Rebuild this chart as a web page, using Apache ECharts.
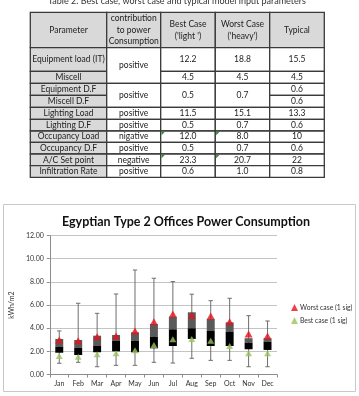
<!DOCTYPE html>
<html><head><meta charset="utf-8">
<script src="https://cdn.jsdelivr.net/npm/echarts@6/dist/echarts.min.js"></script>
<style>html,body{margin:0;padding:0;background:#fff;}#c{width:359px;height:396px;}</style>
</head><body><div id="c"></div>
<script>
// ---- Table data ----
const tableCaption = 'Table 2. Best case, worst case and typical model input parameters';
const tableHeaders = ['Parameter', 'contribution\nto power\nConsumption', "Best Case\n('light ')", "Worst Case\n('heavy')", 'Typical'];
const paramNames = ['Equipment load (IT)','Miscell','Equipment D.F','Miscell D.F','Lighting Load','Lighting D.F','Occupancy Load','Occupancy D.F','A/C Set point','Infiltration Rate'];
// null = merged with the cell above
const contribution = ['positive', null, 'positive', null, 'positive', 'positive', 'nigative', 'positive', 'negative', 'positive'];
const bestCase   = ['12.2', '4.5', '0.5', null, '11.5', '0.5', '12.0', '0.5', '23.3', '0.6'];
const worstCase  = ['18.8', '4.5', '0.7', null, '15.1', '0.7', '8.0', '0.7', '20.7', '1.0'];
const typical    = ['15.5', '4.5', '0.6', '0.6', '13.3', '0.6', '10', '0.6', '22', '0.8'];
const textFlagRows = ['Occupancy Load', 'A/C Set point'];

// ---- Chart data ----
const months = ['Jan','Feb','Mar','Apr','May','Jun','Jul','Aug','Sep','Oct','Nov','Dec'];
const whiskerMin = [0.97, 1.05, 0.67, 0.79, 0.79, 1.05, 0.99, 1.40, 1.22, 1.22, 0.67, 0.67];
const boxLow     = [1.88, 1.68, 1.92, 2.00, 1.92, 2.26, 2.46, 3.07, 2.46, 2.46, 2.18, 2.12];
const boxMid     = [2.40, 2.31, 2.46, 2.89, 2.92, 3.27, 3.90, 3.99, 3.76, 3.70, 2.75, 2.83];
const boxHigh    = [3.07, 2.98, 3.35, 3.41, 3.64, 4.36, 4.99, 5.37, 4.79, 4.50, 3.13, 3.13];
const whiskerMax = [3.76, 6.15, 5.28, 6.95, 9.02, 8.31, 8.02, 6.93, 6.37, 6.58, 5.08, 4.62];
const worstCase1sig = [2.98, 2.92, 3.26, 3.32, 3.75, 4.56, 5.22, 5.11, 5.05, 4.56, 3.50, 3.32];
const bestCase1sig  = [1.60, 1.54, 1.74, 1.83, 2.10, 2.55, 3.04, 3.07, 2.92, 2.46, 1.83, 1.83];
const yTicks = [0, 2, 4, 6, 8, 10, 12];

const FONT = 'Lato, "Liberation Sans", sans-serif';

// ---- Table layout ----
const colX = [30.3, 106.7, 160.7, 215.3, 269.7, 324.3];
const headerTop = 12.3, headerBottom = 47.7;
const rowY = [47.7, 71.3, 83.3, 95.3, 107.3, 119.3, 131, 142.3, 154, 165.7, 177.3];
const graphics = [];
graphics.push({type:'text', x:177, y:1.5, style:{text: tableCaption, font: '9px ' + FONT, fill:'#333', align:'center', verticalAlign:'middle'}});
const border = '#3a3a3a';
function cell(x0, x1, y0, y1, txt, bg) {
  graphics.push({type:'rect', shape:{x:x0, y:y0, width:x1-x0, height:y1-y0}, style:{fill:bg, stroke:border, lineWidth:1.3}, z:1});
  if (txt !== null && txt !== undefined) {
    graphics.push({type:'text', x:(x0+x1)/2, y:(y0+y1)/2, style:{text:txt, font:'8.5px ' + FONT, fill:'#222', align:'center', verticalAlign:'middle', lineHeight:11.6}, z:2});
  }
}
tableHeaders.forEach((h, i) => cell(colX[i], colX[i+1], headerTop, headerBottom, h, '#d9d9d9'));
const cols = [paramNames, contribution, bestCase, worstCase, typical];
cols.forEach((col, ci) => {
  for (let r = 0; r < col.length; r++) {
    if (col[r] === null) continue;
    let end = r + 1;
    while (end < col.length && col[end] === null) end++;
    cell(colX[ci], colX[ci+1], rowY[r], rowY[end], col[r], ci === 0 ? '#d9d9d9' : '#ffffff');
  }
});
paramNames.forEach((p, r) => {
  if (textFlagRows.indexOf(p) >= 0) {
    [2, 3].forEach(ci => {
      const x = colX[ci] + 0.8, y = rowY[r] + 0.8;
      graphics.push({type:'polygon', shape:{points:[[x,y],[x+3.5,y],[x,y+3.5]]}, style:{fill:'#2e8b2e'}, z:3});
    });
  }
});
// chart frame
graphics.push({type:'rect', shape:{x:3.5, y:204.5, width:352, height:187}, style:{fill:'none', stroke:'#c8c8c8', lineWidth:1}, z:0});

const boxData = months.map((m, i) => [i, whiskerMin[i], boxLow[i], boxMid[i], boxHigh[i], whiskerMax[i]]);

function renderBox(params, api) {
  const i = api.value(0);
  const pMin = api.coord([i, api.value(1)]);
  const pLow = api.coord([i, api.value(2)]);
  const pMid = api.coord([i, api.value(3)]);
  const pHigh = api.coord([i, api.value(4)]);
  const pMax = api.coord([i, api.value(5)]);
  const bw = api.size([1, 0])[0] * 0.42;
  const cx = pMin[0];
  const cap = 2.2;
  const ls = {stroke:'#6e6e6e', lineWidth:1};
  return {type:'group', children:[
    {type:'line', shape:{x1:cx, y1:pMin[1], x2:cx, y2:pMax[1]}, style:ls},
    {type:'line', shape:{x1:cx-cap, y1:pMin[1], x2:cx+cap, y2:pMin[1]}, style:ls},
    {type:'line', shape:{x1:cx-cap, y1:pMax[1], x2:cx+cap, y2:pMax[1]}, style:ls},
    {type:'rect', shape:{x:cx-bw/2, y:pHigh[1], width:bw, height:pMid[1]-pHigh[1]}, style:{fill:'#5a5a5a'}},
    {type:'rect', shape:{x:cx-bw/2, y:pMid[1], width:bw, height:pLow[1]-pMid[1]}, style:{fill:'#000000'}}
  ]};
}

const chart = echarts.init(document.getElementById('c'), null, {renderer:'canvas'});
chart.setOption({
  animation:false,
  backgroundColor:'#fff',
  title:{text:'Egyptian Type 2 Offices Power Consumption', left:57, top:210, textStyle:{fontFamily:FONT, fontSize:12.5, fontWeight:'bold', color:'#111'}},
  graphic: graphics,
  grid:{left:43, right:82, top:235.5, bottom:21.5},
  legend:{orient:'vertical', left:286, top:299, itemWidth:7, itemHeight:7, itemGap:6,
    data:[{name:'Worst case (1 sig)', icon:'triangle'}, {name:'Best case (1 sig)', icon:'triangle'}],
    textStyle:{fontFamily:FONT, fontSize:6.8, color:'#333', padding:[0,0,0,-3]}},
  xAxis:{type:'category', data:months, boundaryGap:true,
    axisLine:{lineStyle:{color:'#8c8c8c'}}, axisTick:{show:true, length:3, lineStyle:{color:'#8c8c8c'}},
    axisLabel:{fontFamily:FONT, fontSize:7, color:'#333', margin:6}},
  yAxis:{type:'value', min:yTicks[0], max:yTicks[yTicks.length-1], interval:2,
    name:'kWh/m2', nameLocation:'middle', nameGap:24, nameRotate:90,
    nameTextStyle:{fontFamily:FONT, fontSize:7, color:'#333'},
    axisLine:{show:true, lineStyle:{color:'#8c8c8c'}}, axisTick:{show:true, length:3, lineStyle:{color:'#8c8c8c'}},
    splitLine:{lineStyle:{color:'#c4c4c4'}},
    axisLabel:{fontFamily:FONT, fontSize:7, color:'#333', margin:6, formatter: v => v.toFixed(2)}},
  series:[
    {type:'custom', name:'box', renderItem:renderBox, data:boxData, encode:{x:0, y:[1,2,3,4,5]}, z:2, silent:true},
    {type:'scatter', name:'Worst case (1 sig)', data:worstCase1sig, symbol:'triangle', symbolSize:[8,7], itemStyle:{color:'#e8101c'}, z:5},
    {type:'scatter', name:'Best case (1 sig)', data:bestCase1sig, symbol:'triangle', symbolSize:[7,6], itemStyle:{color:'#9bc45a'}, z:5}
  ]
});
</script></body></html>
